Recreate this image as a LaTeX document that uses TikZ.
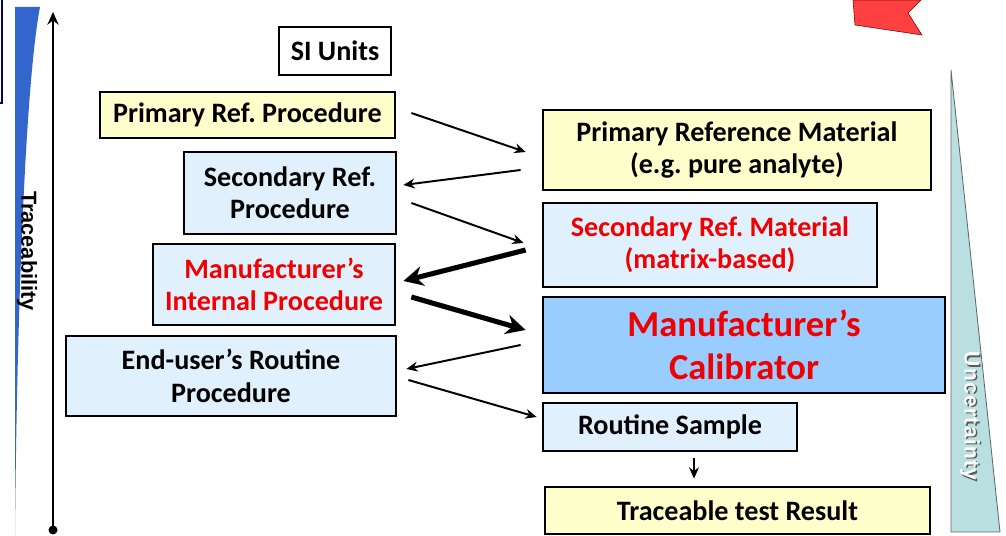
\documentclass[tikz,border=0pt]{standalone}
\usepackage{fontspec}
\setmainfont{Carlito}
\newfontfamily\arialfont{Liberation Sans}
\usepackage{tikz}
\usetikzlibrary{shapes,arrows,arrows.meta,positioning,calc}
\usepackage{xcolor}
\frenchspacing
\definecolor{paleyellow}{HTML}{FFFFCC}
\definecolor{paleblue}{HTML}{E1F0FD}
\definecolor{calblue}{HTML}{99CCFF}
\definecolor{boxred}{HTML}{F00000}
\definecolor{wedgeblue}{HTML}{3366CC}
\definecolor{tealgrey}{HTML}{B9DFE1}
\tikzstyle{yellowbox} = [rectangle, text centered, align=center, draw=black, line width=1.9pt, fill=paleyellow, font=\fontsize{20}{23}\selectfont\bfseries]
\tikzstyle{bluebox} = [rectangle, text centered, align=center, draw=black, line width=1.9pt, fill=paleblue, font=\fontsize{20}{23}\selectfont\bfseries]
\tikzstyle{arrow} = [line width=1.4pt,-{Stealth[length=8pt,width=7pt]}]
\tikzstyle{bigarrow} = [line width=3.6pt,-{Stealth[length=14pt,width=14pt]}]
\tikzstyle{unclabel} = [rotate=-90, font=\arialfont\fontsize{15}{18}\selectfont\bfseries\addfontfeatures{LetterSpace=6}]

\begin{document}
\begin{tikzpicture}[x=0.025cm, y=-0.025cm]
    \useasboundingbox (0,0) rectangle (1006,536);
    % Background shapes
    \fill[wedgeblue] (15,7) -- (40,7) .. controls (26,80) and (17,300) .. (15,535) -- cycle;
    \draw[color=blue!40!black, line width=0.8pt] (2,0) -- (2,103) -- (0,103);
    \fill[red!75, draw=red!50!black, line width=0.4pt] (853,0) -- (921,0) -- (908,13) -- (922,35) -- (855,25) -- cycle;
    \filldraw[fill=tealgrey, draw=gray!80!black, line width=0.6pt] (951,70) -- (1000,532) -- (951,532) -- cycle;
    \node [unclabel, text=gray!70!black] at (971.5,417.5) {Uncertainty};
    \node (unc) [unclabel, text=white] at (970,416) {Uncertainty};

    % Traceability axis
    \coordinate (axbottom) at (53,530);
    \coordinate (axtop) at (53,12);
    \draw [line width=1.6pt, -{Stealth[length=9pt,width=8pt]}] (axbottom) -- (axtop);
    \fill (axbottom) circle (4.5);
    \node (trace) [rotate=-90, font=\arialfont\fontsize{15.5}{18}\selectfont\bfseries] at (27,251) {Traceability};

    % Nodes
    \node (si)  [yellowbox, minimum width=2.8cm, minimum height=1.2cm, fill=white] at (335,51) {SI Units};
    \node (prp) [yellowbox, minimum width=7.375cm, minimum height=1.15cm] at (247.5,115) {Primary Ref. Procedure};
    \node (srp) [bluebox, minimum width=5.3cm, minimum height=2.05cm] at (290,193) {Secondary Ref.\\ Procedure};
    \node (mip) [bluebox, minimum width=6.05cm, minimum height=2.025cm, text=boxred] at (274,284.5) {Manufacturer’s\\ Internal Procedure};
    \node (eup) [bluebox, minimum width=8.25cm, minimum height=2cm] at (231,376) {End-user’s Routine\\ Procedure};
    \node (prm) [yellowbox, minimum width=9.7cm, minimum height=2cm] at (737,150) {Primary Reference Material\\ (e.g. pure analyte)};
    \node (srm) [bluebox, minimum width=8.35cm, minimum height=2.1cm, text=boxred] at (710,245) {Secondary Ref. Material\\ (matrix-based)};
    \node (cal) [bluebox, minimum width=10.05cm, minimum height=2.4cm, fill=calblue, text=boxred, font=\fontsize{26}{31}\selectfont\bfseries] at (744,345) {Manufacturer’s\\ Calibrator};
    \node (rs)  [bluebox, minimum width=6.35cm, minimum height=1.2cm] at (670,427) {Routine Sample};
    \node (ttr) [yellowbox, minimum width=9.625cm, minimum height=1.175cm] at (737.5,510.5) {Traceable test Result};

    % Arrows
    \draw [arrow] ($(prp.east)+(15,-2)$) -- ($(prm.west)+(-16,2)$);
    \draw [arrow] ($(prm.west)+(-21,20)$) -- ($(srp.east)+(6,-8)$);
    \draw [arrow] ($(srp.east)+(14,10)$) -- ($(srm.west)+(-18,-2)$);
    \draw [bigarrow] ($(srm.west)+(-16,5)$) -- ($(mip.east)+(7,-3.5)$);
    \draw [bigarrow] ($(mip.east)+(15,12.5)$) -- ($(cal.west)+(-16,-15)$);
    \draw [arrow] ($(cal.west)+(-21,0)$) -- ($(eup.east)+(9,-7)$);
    \draw [arrow] ($(eup.east)+(11,4)$) -- ($(rs.west)+(-5,-10)$);
    \draw [arrow] ($(rs.south)+(24,6)$) -- ($(ttr.north)+(-43.5,-7)$);
\end{tikzpicture}
\end{document}
